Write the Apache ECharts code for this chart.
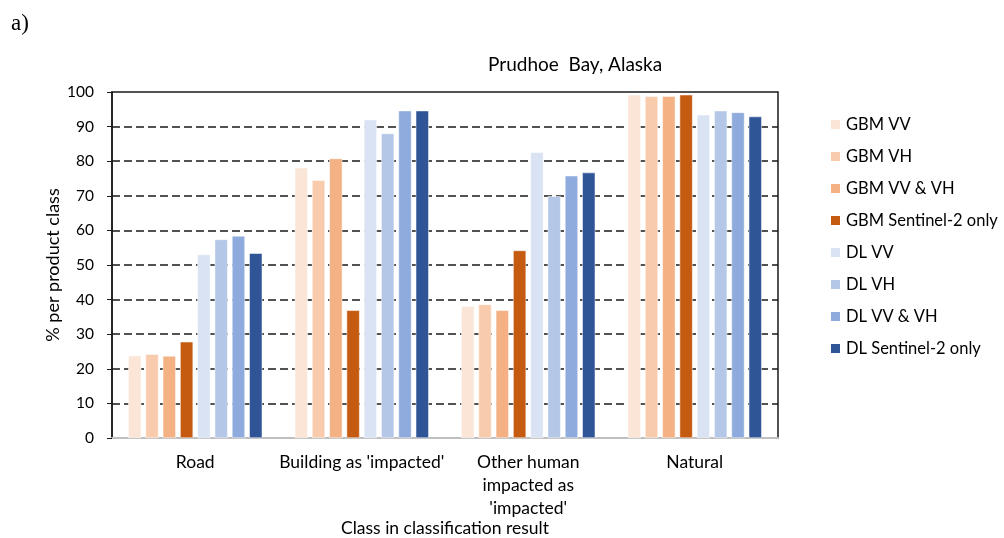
<!DOCTYPE html>
<html>
<head>
<meta charset="utf-8">
<script src="https://cdn.jsdelivr.net/npm/echarts@6/dist/echarts.min.js"></script>
<style>
  html, body { margin: 0; padding: 0; background: #ffffff; }
  #chart { width: 1004px; height: 538px; }
</style>
</head>
<body>
<div id="chart"></div>
<script>
// Land-cover classes in the classification result
const categories = ['Road', "Building as 'impacted'", "Other human\nimpacted as\n'impacted'", 'Natural'];

// Percent per product class, one array per method / input
const gbmVV    = [23.8, 78.1, 38.1, 99.2];
const gbmVH    = [24.2, 74.5, 38.6, 98.8];
const gbmVVVH  = [23.7, 80.8, 36.9, 98.8];
const gbmS2    = [27.8, 36.9, 54.2, 99.2];
const dlVV     = [53.0, 92.0, 82.6, 93.4];
const dlVH     = [57.4, 88.0, 69.9, 94.6];
const dlVVVH   = [58.4, 94.6, 75.8, 94.1];
const dlS2     = [53.4, 94.6, 76.7, 92.9];

const seriesNames = ['GBM VV', 'GBM VH', 'GBM VV & VH', 'GBM Sentinel-2 only',
                     'DL VV', 'DL VH', 'DL VV & VH', 'DL Sentinel-2 only'];
const seriesData = [gbmVV, gbmVH, gbmVVVH, gbmS2, dlVV, dlVH, dlVVVH, dlS2];
const colors = ['#FBE5D6', '#F8CBAD', '#F4B183', '#C55A11',
                '#DAE3F3', '#B4C7E7', '#8FAADC', '#2F5597'];

const yTicks = [0, 10, 20, 30, 40, 50, 60, 70, 80, 90, 100];

const FONT = 'Lato';

const chart = echarts.init(document.getElementById('chart'), null, { renderer: 'canvas' });

chart.setOption({
  animation: false,
  backgroundColor: '#ffffff',
  color: colors,
  title: [
    {
      text: 'a)',
      left: 6,
      top: 7,
      textStyle: { fontFamily: 'Liberation Serif', fontSize: 23, fontWeight: 'normal', color: '#000' }
    },
    {
      text: 'Prudhoe  Bay, Alaska',
      left: 483,
      top: 50,
      textStyle: { fontFamily: FONT, fontSize: 19, fontWeight: 'normal', color: '#000' }
    }
  ],
  legend: {
    orient: 'vertical',
    left: 829,
    top: 116,
    padding: 0,
    icon: 'rect',
    itemWidth: 11,
    itemHeight: 11,
    itemGap: 15,
    textStyle: { fontFamily: FONT, fontSize: 16.5, color: '#000' },
    data: seriesNames
  },
  grid: {
    left: 112,
    right: 1004 - 778,
    top: 92,
    bottom: 538 - 438,
    show: true,
    borderColor: '#1a1a1a',
    borderWidth: 1.5,
    containLabel: false,
    outerBoundsMode: 'none'
  },
  xAxis: {
    type: 'category',
    data: categories,
    name: 'Class in classification result',
    nameLocation: 'middle',
    nameGap: 81,
    nameMoveOverlap: false,
    nameTextStyle: { fontFamily: FONT, fontSize: 17.5, color: '#000' },
    axisLine: { lineStyle: { color: '#bfbfbf', width: 2 } },
    axisTick: { show: false },
    axisLabel: {
      fontFamily: FONT, fontSize: 17.5, color: '#000',
      margin: 13, lineHeight: 23, interval: 0
    }
  },
  yAxis: {
    type: 'value',
    min: yTicks[0],
    max: yTicks[yTicks.length - 1],
    interval: 10,
    name: '% per product class',
    nameLocation: 'middle',
    nameRotate: 90,
    nameGap: 50,
    nameMoveOverlap: false,
    nameTextStyle: { fontFamily: FONT, fontSize: 18, color: '#000' },
    axisLine: { show: true, lineStyle: { color: '#1a1a1a', width: 1.5 } },
    axisTick: { show: true, length: 5, inside: false, lineStyle: { color: '#1a1a1a' } },
    axisLabel: { fontFamily: FONT, fontSize: 15.5, color: '#000', margin: 18 },
    splitLine: {
      show: true,
      showMinLine: false,
      showMaxLine: false,
      lineStyle: { color: '#1a1a1a', width: 1.5, type: [8, 4] }
    }
  },
  series: seriesNames.map((name, i) => ({
    name: name,
    type: 'bar',
    data: seriesData[i],
    barWidth: 13,
    barGap: '33%',
    itemStyle: { color: colors[i], borderColor: '#ffffff', borderWidth: 0.5 }
  }))
});
</script>
</body>
</html>
